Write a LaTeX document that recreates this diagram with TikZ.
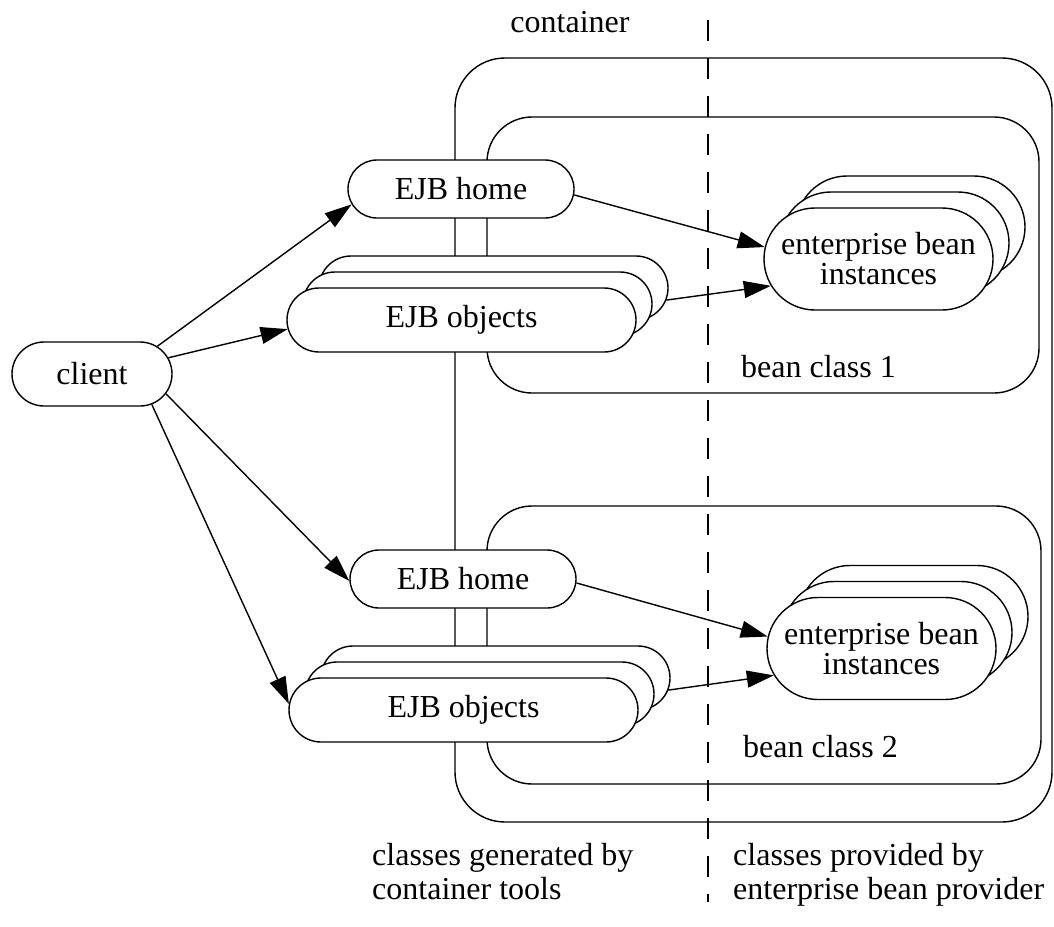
\documentclass[tikz,border=0pt]{standalone}
\usepackage{fontspec}
\setmainfont{Liberation Serif}
\newfontfamily\lserif{Liberation Serif}
\usetikzlibrary{shapes.misc,arrows.meta}
\begin{document}
\begin{tikzpicture}[x=1pt,y=-1pt,
  every node/.style={font=\lserif\fontsize{32}{30}\selectfont},
  pill/.style={rounded rectangle, draw, line width=1.4pt, fill=white, inner sep=0pt, align=center},
  frame/.style={draw, line width=1.4pt, rectangle, inner sep=0pt, rounded corners=45pt},
  arr/.style={line width=1.4pt, -{Triangle[length=27pt,width=17pt]}},
  lbl/.style={inner sep=0pt, anchor=base west, align=left},
  dashline/.style={line width=1.2pt, dash pattern=on 21pt off 17pt},
]
\useasboundingbox (0,0) rectangle (1054,926);

% frames
\node[frame, rounded corners=50pt, minimum width=597pt, minimum height=764pt] (container) at (753.5,440) {};
\node[frame, minimum width=552pt, minimum height=276pt] (bean1) at (763,255) {};
\node[frame, minimum width=554pt, minimum height=278pt] (bean2) at (764,645) {};

% nodes
\node[pill, minimum width=160pt, minimum height=64pt] (client) at (92,374) {client};

\node[pill, minimum width=226pt, minimum height=58pt] (home1) at (461,189) {EJB home};
\node[pill, minimum width=349pt, minimum height=64pt] (objs1c) at (493.5,288) {};
\node[pill, minimum width=349pt, minimum height=64pt] (objs1b) at (477.5,304) {};
\node[pill, minimum width=349pt, minimum height=64pt] (objs1) at (461.5,320) {EJB objects};

\node[pill, minimum width=229pt, minimum height=102pt] (ebi1c) at (910.5,227) {};
\node[pill, minimum width=229pt, minimum height=102pt] (ebi1b) at (894.5,243) {};
\node[pill, minimum width=229pt, minimum height=102pt] (ebi1) at (878.5,259) {enterprise bean\\instances};

\node[pill, minimum width=226pt, minimum height=58pt] (home2) at (463,579) {EJB home};
\node[pill, minimum width=349pt, minimum height=64pt] (objs2c) at (495.5,678) {};
\node[pill, minimum width=349pt, minimum height=64pt] (objs2b) at (479.5,694) {};
\node[pill, minimum width=349pt, minimum height=64pt] (objs2) at (463.5,710) {EJB objects};

\node[pill, minimum width=229pt, minimum height=102pt] (ebi2c) at (913.5,616.5) {};
\node[pill, minimum width=229pt, minimum height=102pt] (ebi2b) at (897.5,632.5) {};
\node[pill, minimum width=229pt, minimum height=102pt] (ebi2) at (881.5,648.5) {enterprise bean\\instances};

% labels
\node[inner sep=0pt, anchor=base] (contlbl) at (570,32) {container};
\node[lbl] (b1lbl) at (741,377) {bean class 1};
\node[lbl] (b2lbl) at (743,757) {bean class 2};
\node[lbl] (gen1) at (372,865) {classes generated by};
\node[lbl] (gen2) at (372,899) {container tools};
\node[lbl] (prov1) at (733,865) {classes provided by};
\node[lbl] (prov2) at (733,899) {enterprise bean provider};

% arrows
\draw[arr] (client.23) -- (home1.188);
\draw[arr] (client.12) -- (objs1.183);
\draw[arr] (client.-15) -- (home2.181);
\draw[arr] (client.-27) -- (objs2.178);
\draw[arr] (home1.-3) -- (ebi1.174);
\draw[arr] (objs1c.-4) -- (ebi1.194);
\draw[arr] (home2.-2) -- (ebi2.174);
\draw[arr] (objs2c.-4) -- (ebi2.194);

% dashed separator
\coordinate (dtop) at (708,20);
\coordinate (dbot) at (708,902);
\draw[dashline] (dtop) -- (dbot);
\end{tikzpicture}
\end{document}
